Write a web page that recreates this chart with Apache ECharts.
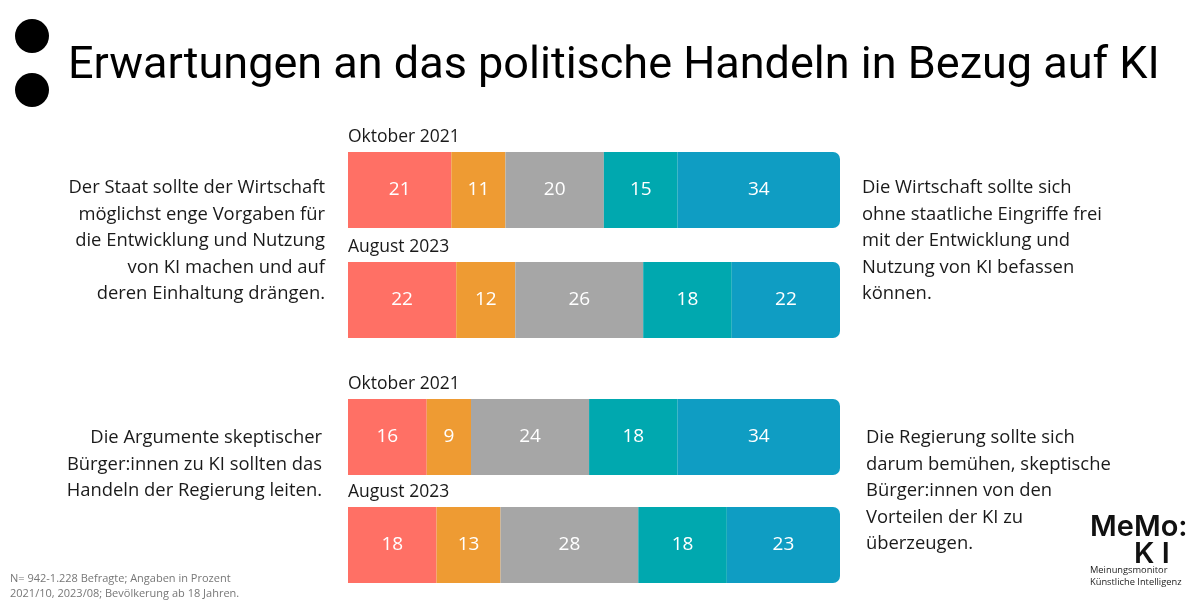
<!DOCTYPE html>
<html><head><meta charset="utf-8">
<script src="https://cdn.jsdelivr.net/npm/echarts@6/dist/echarts.min.js"></script>
<style>html,body{margin:0;padding:0;background:#fff}#c{width:1200px;height:600px}</style>
</head><body><div id="c"></div>
<script>
const periods = ['Oktober 2021', 'August 2023'];
const q1Oct2021 = [21, 11, 20, 15, 34];
const q1Aug2023 = [22, 12, 26, 18, 22];
const q2Oct2021 = [16, 9, 24, 18, 34];
const q2Aug2023 = [18, 13, 28, 18, 23];
const segColors = ['#FF7065', '#EE9B33', '#A6A6A6', '#00A8AF', '#0F9DC3'];

const chart = echarts.init(document.getElementById('c'));
const bodyFont = 'Open Sans';

function makeSeries(gridIdx, a, b) {
  return segColors.map((col, i) => ({
    type: 'bar', stack: 'g' + gridIdx, xAxisIndex: gridIdx, yAxisIndex: gridIdx,
    barWidth: 76,
    itemStyle: { color: col, borderRadius: i === 4 ? [0, 7, 7, 0] : 0 },
    label: { show: true, position: 'inside', color: '#fff', fontSize: 19, fontFamily: bodyFont },
    data: [a[i], b[i]]
  }));
}

const yAx = (idx) => ({
  type: 'category', gridIndex: idx, data: periods, inverse: true,
  axisLine: { show: false }, axisTick: { show: false },
  axisLabel: { inside: true, margin: 0, verticalAlign: 'bottom', padding: [0, 0, 44, 0],
    fontSize: 17.5, color: '#1a1a1a', fontFamily: bodyFont }
});
const xAx = (idx) => ({ type: 'value', gridIndex: idx, min: 0, max: 100, show: false });

function para(lines, x, y, align) {
  return {
    type: 'text', x: x, y: y,
    style: { text: lines.join('\n'), fontSize: 18.4, lineHeight: 26.5, fill: '#1a1a1a',
      fontFamily: bodyFont, align: align, verticalAlign: 'top' }
  };
}

chart.setOption({
  animation: false,
  grid: [
    { left: 348, width: 492, top: 135, height: 220 },
    { left: 348, width: 492, top: 383, height: 216 }
  ],
  xAxis: [xAx(0), xAx(1)],
  yAxis: [yAx(0), yAx(1)],
  series: [...makeSeries(0, q1Oct2021, q1Aug2023), ...makeSeries(1, q2Oct2021, q2Aug2023)],
  graphic: [
    { type: 'circle', shape: { cx: 32, cy: 36, r: 17 }, style: { fill: '#000' } },
    { type: 'circle', shape: { cx: 32, cy: 90, r: 17 }, style: { fill: '#000' } },
    { type: 'text', x: 68, y: 67, style: { text: 'Erwartungen an das politische Handeln in Bezug auf KI',
      fontSize: 45, fontFamily: 'Roboto', fill: '#000', verticalAlign: 'middle' } },
    para(['Der Staat sollte der Wirtschaft', 'möglichst enge Vorgaben für', 'die Entwicklung und Nutzung',
      'von KI machen und auf', 'deren Einhaltung drängen.'], 325, 175, 'right'),
    para(['Die Wirtschaft sollte sich', 'ohne staatliche Eingriffe frei', 'mit der Entwicklung und',
      'Nutzung von KI befassen', 'können.'], 862, 175, 'left'),
    para(['Die Argumente skeptischer', 'Bürger:innen zu KI sollten das', 'Handeln der Regierung leiten.'], 322, 425, 'right'),
    para(['Die Regierung sollte sich', 'darum bemühen, skeptische', 'Bürger:innen von den',
      'Vorteilen der KI zu', 'überzeugen.'], 866, 425, 'left'),
    { type: 'text', x: 10, y: 571, style: { text: 'N= 942-1.228 Befragte; Angaben in Prozent\n2021/10, 2023/08; Bevölkerung ab 18 Jahren.',
      fontSize: 11, lineHeight: 15.5, fill: '#777', fontFamily: bodyFont, verticalAlign: 'top' } },
    { type: 'text', x: 1090, y: 513, style: { text: 'MeMo:', fontSize: 29, fontWeight: 600, fill: '#111', fontFamily: 'Inter', verticalAlign: 'top' } },
    { type: 'text', x: 1134, y: 540, style: { text: 'K I', fontSize: 29, fontWeight: 600, fill: '#111', fontFamily: 'Inter', verticalAlign: 'top' } },
    { type: 'text', x: 1090, y: 564, style: { text: 'Meinungsmonitor\nKünstliche Intelligenz', fontSize: 9.3, lineHeight: 12.5, fill: '#222', fontFamily: bodyFont, verticalAlign: 'top' } }
  ]
});
</script></body></html>
